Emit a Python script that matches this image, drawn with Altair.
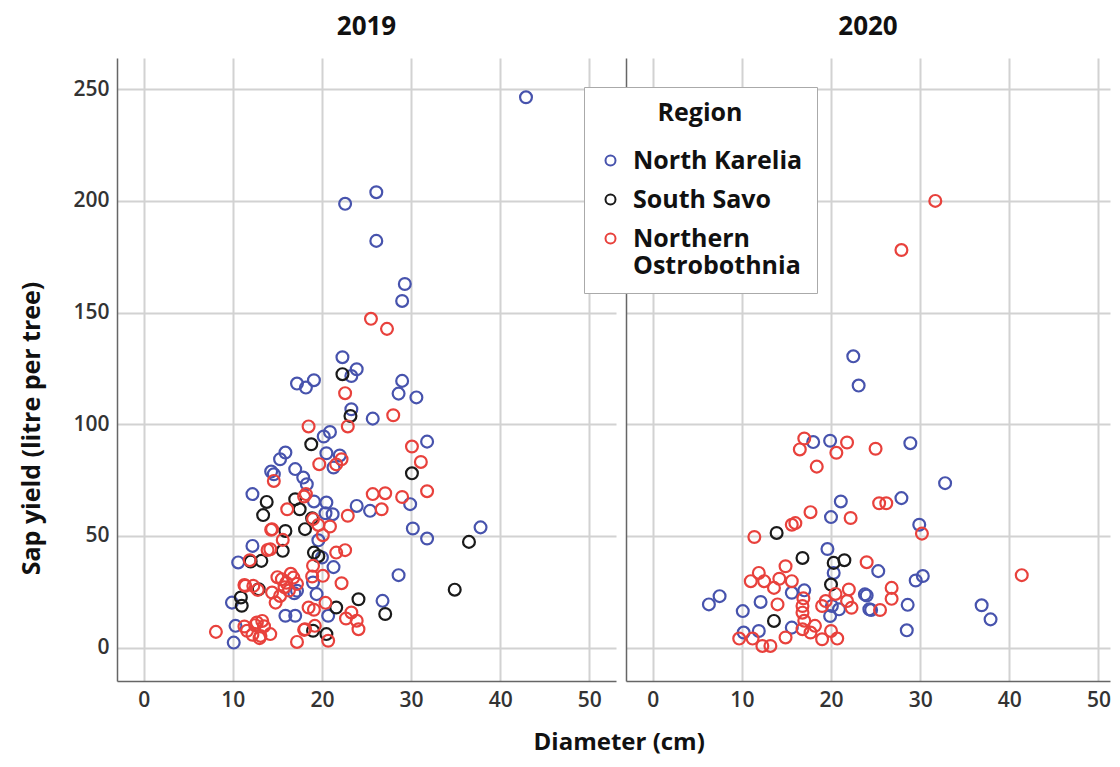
import altair as alt
import pandas as pd

REGIONS = ["North Karelia", "South Savo", "Northern Ostrobothnia"]
COLORS = ["#4753ad", "#1a1a1a", "#e8413c"]
X_TICKS = [0, 10, 20, 30, 40, 50]
Y_TICKS = [0, 50, 100, 150, 200, 250]

# ---- 2019 ----
nk19_x = [42.9, 26.1, 22.6, 26.1, 29.3, 29.0, 22.3, 23.9, 23.3, 17.2, 18.2, 19.1, 29.0, 28.6, 30.6,
          23.3, 25.7, 20.9, 20.2, 31.8, 15.9, 15.3, 20.5, 21.3, 17.0, 14.6, 17.9, 18.3, 12.2, 19.1,
          20.5, 21.2, 23.9, 25.4, 29.9, 30.2, 31.8, 37.8, 28.6, 26.8, 20.7, 20.0, 12.2, 10.6, 9.9,
          17.2, 19.0, 19.4, 15.9, 17.0, 10.3, 10.1, 16.9, 20.4, 14.3, 22.0, 19.6, 21.3]
nk19_y = [246.4, 203.9, 198.7, 182.1, 162.8, 155.2, 130.0, 124.6, 121.6, 118.2, 116.4, 119.7, 119.4, 113.7, 112.0,
          106.7, 102.5, 96.5, 94.5, 92.2, 87.3, 84.3, 87.0, 80.6, 79.9, 77.6, 76.1, 73.1, 68.7, 65.4,
          64.9, 59.7, 63.4, 61.2, 64.2, 53.3, 48.8, 53.8, 32.4, 20.9, 14.2, 40.3, 45.5, 38.1, 20.1,
          25.4, 29.1, 23.9, 14.2, 14.2, 9.7, 2.2, 24.3, 60.1, 78.8, 86.0, 48.0, 36.0]

ss19_x = [22.3, 23.2, 18.8, 30.1, 13.8, 13.4, 17.0, 17.5, 18.1, 15.9, 18.9, 15.6, 19.1, 19.6, 13.2,
          12.0, 12.9, 10.9, 11.0, 19.0, 20.5, 24.1, 21.6, 27.1, 34.9, 36.5]
ss19_y = [122.4, 103.7, 91.0, 78.0, 65.2, 59.3, 66.4, 61.9, 53.0, 52.2, 57.9, 43.3, 42.5, 41.0, 38.8,
          38.5, 26.1, 22.4, 18.7, 7.5, 6.0, 21.6, 17.9, 15.0, 25.9, 47.3]

no19_x = [25.5, 27.3, 22.6, 28.0, 18.5, 22.9, 30.1, 31.1, 31.8, 19.7, 22.2, 21.6, 14.6, 18.2, 16.1,
          19.0, 20.1, 14.4, 22.9, 25.7, 27.1, 26.7, 29.0, 23.3, 23.9, 24.1, 22.2, 21.6, 22.6, 11.9,
          14.2, 15.5, 16.8, 20.1, 19.0, 12.3, 11.4, 14.8, 15.3, 14.4, 18.5, 13.3, 12.7, 11.6, 8.1,
          14.2, 13.1, 17.2, 20.7, 19.2, 18.1, 15.6, 13.9, 16.0, 16.5, 15.0, 17.2, 15.8, 16.3, 13.5,
          12.5, 18.9, 19.1, 20.9, 19.6, 18.0, 22.7, 18.0, 20.4, 12.8, 11.3, 11.3, 13.0, 12.2, 14.3]
no19_y = [147.2, 142.7, 113.9, 104.0, 99.0, 99.0, 90.0, 83.1, 70.0, 82.1, 84.3, 82.0, 74.6, 68.7, 61.9,
          57.5, 50.3, 53.0, 59.0, 68.7, 69.1, 61.9, 67.4, 15.7, 12.0, 8.2, 28.8, 42.5, 43.6, 39.1,
          44.0, 30.6, 31.3, 32.1, 36.6, 27.6, 27.6, 20.1, 23.1, 24.6, 17.9, 11.9, 11.2, 7.5, 7.0,
          6.0, 5.2, 2.5, 3.0, 9.7, 8.2, 48.2, 43.7, 29.0, 33.0, 31.5, 28.5, 27.0, 25.5, 9.5,
          10.0, 31.8, 16.9, 54.2, 54.9, 67.6, 13.0, 7.9, 20.0, 25.8, 28.0, 9.4, 4.2, 5.7, 52.7]

# ---- 2020 ----
nk20_x = [22.5, 23.1, 18.0, 19.9, 28.9, 32.8, 27.9, 21.1, 20.0, 29.9, 19.6, 25.3, 29.5, 30.3, 24.0,
          24.5, 28.6, 28.5, 36.9, 37.9, 15.6, 17.0, 12.1, 10.1, 6.3, 7.5, 10.2, 11.9, 15.6, 20.1,
          19.9, 20.9, 23.8, 24.3, 20.3]
nk20_y = [130.4, 117.3, 92.0, 92.6, 91.5, 73.6, 66.9, 65.4, 58.4, 55.0, 44.1, 34.2, 30.0, 32.0, 23.3,
          16.8, 19.1, 7.7, 18.9, 12.6, 24.5, 25.6, 20.4, 16.3, 19.3, 23.0, 6.7, 7.4, 8.9, 18.6,
          14.1, 17.1, 23.8, 17.1, 33.4]

ss20_x = [13.9, 16.8, 20.3, 21.5, 20.0, 13.6]
ss20_y = [51.3, 40.1, 37.9, 39.1, 28.2, 11.9]

no20_x = [31.7, 27.9, 17.0, 16.5, 21.8, 20.6, 25.0, 18.4, 22.2, 17.7, 16.0, 15.6, 11.4, 25.4, 26.2,
          30.2, 24.0, 41.4, 26.8, 26.8, 25.5, 22.0, 21.8, 22.3, 19.4, 19.0, 11.0, 11.9, 12.5, 13.6,
          14.2, 14.9, 15.6, 16.8, 16.8, 14.0, 9.7, 11.2, 12.3, 13.2, 14.9, 16.8, 17.7, 18.2, 19.0,
          20.0, 20.7, 17.0, 16.9, 20.5]
no20_y = [200.0, 178.0, 93.6, 88.7, 91.8, 87.2, 89.0, 81.0, 58.0, 60.6, 55.7, 55.0, 49.5, 64.6, 64.6,
          51.0, 38.2, 32.4, 26.7, 21.8, 16.8, 26.0, 20.8, 17.8, 20.8, 18.6, 29.7, 33.4, 29.7, 26.7,
          30.8, 36.4, 29.7, 18.6, 15.6, 19.3, 4.0, 4.0, 0.7, 0.7, 4.5, 8.2, 6.7, 9.7, 3.7,
          7.4, 4.0, 12.0, 22.0, 24.0]

series = [
    ("2019", "North Karelia", nk19_x, nk19_y),
    ("2019", "South Savo", ss19_x, ss19_y),
    ("2019", "Northern Ostrobothnia", no19_x, no19_y),
    ("2020", "North Karelia", nk20_x, nk20_y),
    ("2020", "South Savo", ss20_x, ss20_y),
    ("2020", "Northern Ostrobothnia", no20_x, no20_y),
]
rows = []
for year, region, xs, ys in series:
    for xv, yv in zip(xs, ys):
        rows.append({"year": year, "Region": region, "d": xv, "s": yv})
df = pd.DataFrame(rows)

FONT = "Open Sans"
GRID = "#d2d2d2"
DOMAIN = "#666666"


def panel(year, first, x_max, width):
    if first:
        yaxis = alt.Axis(
            values=Y_TICKS,
            title="Sap yield (litre per tree)",
            ticks=False,
            labelPadding=8,
            labelFontSize=21,
            labelFontWeight=600,
            labelColor="#333333",
            titleFontSize=25,
            titleFontWeight="bold",
            titleColor="#111111",
            titlePadding=28,
            titleY=370,
            domainColor=DOMAIN,
            domainWidth=1.5,
            gridColor=GRID,
            gridWidth=2,
        )
    else:
        yaxis = alt.Axis(
            values=Y_TICKS, title=None, labels=False, ticks=False,
            domainColor=DOMAIN, domainWidth=1.5,
            gridColor=GRID, gridWidth=2,
        )
    return (
        alt.Chart(df)
        .transform_filter(alt.datum.year == year)
        .mark_point(filled=False, size=140, strokeWidth=2.2, opacity=1)
        .encode(
            x=alt.X(
                "d:Q",
                scale=alt.Scale(domain=[-3, x_max], nice=False, zero=False),
                axis=alt.Axis(
                    values=X_TICKS, title=None, ticks=False, labelPadding=8,
                    labelFontSize=21, labelFontWeight=600, labelColor="#333333",
                    domainColor=DOMAIN, domainWidth=1.5,
                    gridColor=GRID, gridWidth=2,
                ),
            ),
            y=alt.Y("s:Q", scale=alt.Scale(domain=[-15, 264], nice=False, zero=False), axis=yaxis),
            color=alt.Color(
                "Region:N",
                scale=alt.Scale(domain=REGIONS, range=COLORS),
                legend=alt.Legend(
                    title="Region",
                    orient="none",
                    legendX=467,
                    legendY=29,
                    titleAnchor="middle",
                    titleFontSize=25,
                    titleFontWeight="bold",
                    titleColor="#111111",
                    titlePadding=22,
                    labelFontSize=25,
                    labelFontWeight="bold",
                    labelColor="#111111",
                    labelLimit=400,
                    labelOffset=10,
                    labelExpr="datum.label == 'Northern Ostrobothnia' ? ['Northern', 'Ostrobothnia'] : datum.label",
                    symbolSize=100,
                    symbolStrokeWidth=2,
                    rowPadding=13,
                    padding=14,
                    fillColor="white",
                    strokeColor="#aaaaaa",
                ),
            ),
        )
        .properties(
            width=width,
            height=623,
            title=alt.TitleParams(year, fontSize=26, fontWeight="bold", color="#111111",
                                  anchor="middle", offset=18, font=FONT),
        )
    )


chart = (
    alt.hconcat(panel("2019", True, 53, 499), panel("2020", False, 51.3, 484), spacing=10)
    .properties(
        title=alt.TitleParams(
            "Diameter (cm)", orient="bottom", anchor="middle", fontSize=24,
            fontWeight="bold", color="#111111", offset=21, dx=54, font=FONT,
        ),
        padding={"left": 11, "top": 6, "right": 0, "bottom": 4},
    )
    .configure(font=FONT)
    .configure_view(stroke=None)
)

chart.save("out.html", embed_options={"renderer": "svg", "actions": False})
